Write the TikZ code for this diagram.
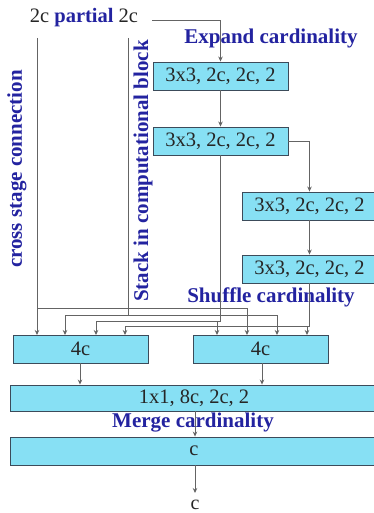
\documentclass[tikz,border=0pt]{standalone}
\usepackage{fontspec}
\setmainfont{Liberation Serif}
\usetikzlibrary{arrows.meta,calc}
\definecolor{boxfill}{RGB}{135,224,244}
\definecolor{boxline}{RGB}{60,75,90}
\definecolor{labelblue}{RGB}{35,35,160}
\definecolor{wirecol}{RGB}{100,100,100}
\tikzset{
  stage/.style={draw=boxline, line width=0.9pt, fill=boxfill, inner sep=0pt,
    minimum height=28pt, text=black!85,
    font=\fontsize{20.5}{24}\selectfont},
  wire/.style={draw=wirecol, line width=0.8pt},
  tip/.style={-{Stealth[length=5pt,width=4.5pt]}, },
  note/.style={text=labelblue, font=\fontsize{21}{25}\selectfont\bfseries, inner sep=0pt},
}
\begin{document}
\begin{tikzpicture}[x=1pt,y=-1pt]
\useasboundingbox (0,0) rectangle (374,513);

% input label
\node[inner sep=0pt, font=\fontsize{20.5}{24}\selectfont, text=black!85] (inp) at (84,18)
  {2c \textcolor{labelblue}{\bfseries partial} 2c};
\coordinate (cs) at (37,38);
\coordinate (sk) at (128,38);
\coordinate (feed) at (152,20);

% computational stages
\node[stage, minimum width=135pt] (b1) at (220.5,76) {3x3, 2c, 2c, 2};
\node[stage, minimum width=135pt] (b2) at (220.5,141) {3x3, 2c, 2c, 2};
\node[stage, minimum width=135pt] (b3) at (309.5,206) {3x3, 2c, 2c, 2};
\node[stage, minimum width=135pt] (b4) at (309.5,269) {3x3, 2c, 2c, 2};

\node[stage, minimum width=135pt] (left) at (80.5,349) {4c};
\node[stage, minimum width=135pt] (right) at (260.5,349) {4c};
\node[stage, minimum width=368pt, minimum height=26pt] (merge) at (194,398) {1x1, 8c, 2c, 2};
\node[stage, minimum width=368pt] (out) at (194,451) {c};
\coordinate (end) at (195,493);
\node[inner sep=0pt, font=\fontsize{20}{24}\selectfont, text=black!85] (endlbl) at (195,505) {c};

% annotations
\node[note] (expand) at (271,38) {Expand cardinality};
\node[note] (shuffle) at (271,297) {Shuffle cardinality};
\node[note] (mergelbl) at (193,423) {Merge cardinality};
\node[note, rotate=90] (cross) at (17,169) {cross stage connection};
\node[note, rotate=90] (stack) at (143,171) {Stack in computational block};

% main chain
\draw[wire, tip] (feed) -| (b1.north);
\draw[wire, tip] (b1.south) -- (b2.north);
\draw[wire, tip] (b2.east) -| (b3.north);
\draw[wire, tip] (b3.south) -- (b4.north);

% inputs of the two concatenations
\coordinate (a1) at (37,335);  \coordinate (a2) at (65,335);
\coordinate (a3) at (96,335);  \coordinate (a4) at (125,335);
\coordinate (c1) at (217,335); \coordinate (c2) at (247,335);
\coordinate (c3) at (277,335); \coordinate (c4) at (307,335);
\coordinate (j1) at (37,308);
\coordinate (j2) at (128,315);
\coordinate (j3) at (220.5,321);
\coordinate (j4) at (309.5,326);

\draw[wire, tip] (cs) -- (a1);
\draw[wire, tip] (j1) -| (c2);
\draw[wire] (sk) -- (j2);
\draw[wire, tip] (j2) -| (a2);
\draw[wire, tip] (j2) -| (c3);
\draw[wire] (b2.south) -- (j3);
\draw[wire, tip] (j3) -| (a3);
\draw[wire, tip] (j3) -| (c1);
\draw[wire] (b4.south) -- (j4);
\draw[wire, tip] (j4) -| (a4);
\draw[wire, tip] (j4) -| (c4);

% merging
\draw[wire, tip] (left.south -| 80,0) -- (merge.north -| 80,0);
\draw[wire, tip] (right.south -| 262,0) -- (merge.north -| 262,0);
\draw[wire, tip] (merge.south -| 195,0) -- (out.north -| 195,0);
\draw[wire, tip] (out.south -| 195,0) -- (end);
\end{tikzpicture}
\end{document}
